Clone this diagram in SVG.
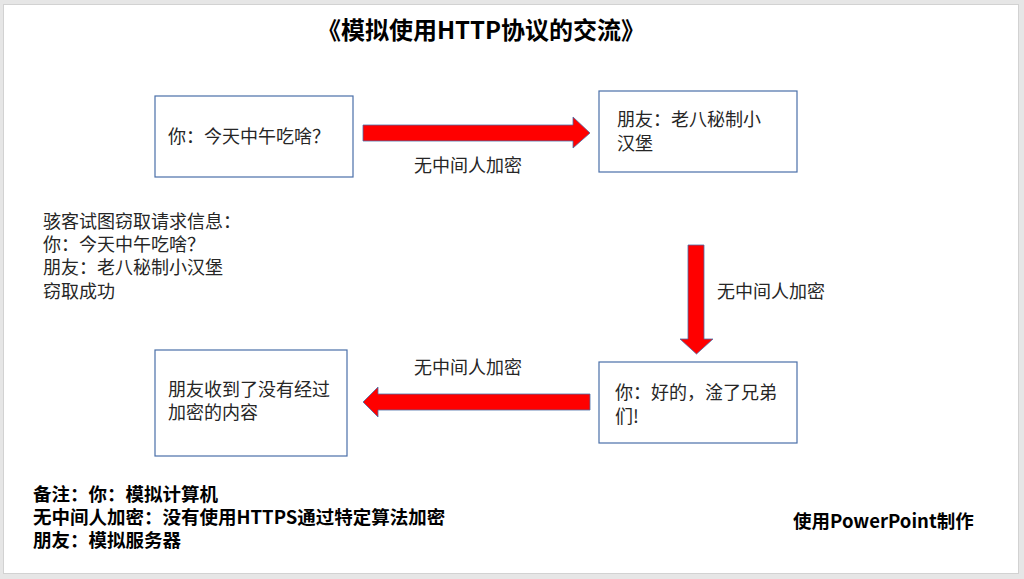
<svg xmlns="http://www.w3.org/2000/svg" width="1024" height="579" viewBox="0 0 1024 579">
<style>
.box{fill:#fff;stroke:#4a6fa8;stroke-width:1.2}
.t{font-family:"Noto Sans CJK SC","Liberation Sans",sans-serif;font-size:18px;fill:#262626}
.b{font-family:"Noto Sans CJK SC","Liberation Sans",sans-serif;font-size:18.5px;font-weight:bold;fill:#000}
.arr{fill:#ff0000;stroke:#4a6fa8;stroke-width:0.8}
</style>
<rect x="0" y="0" width="1024" height="579" fill="#e6e6e6"/>
<rect x="3.5" y="4.5" width="1015" height="569" fill="#fff" stroke="#d2d2d2"/>
<text x="481" y="39" text-anchor="middle" font-family="'Noto Sans CJK SC','Liberation Sans',sans-serif" font-size="24" font-weight="bold" fill="#000">《模拟使用HTTP协议的交流》</text>
<g id="connectors">
<polygon class="arr" points="363,125 573,125 573,117 590,133 573,148 573,141 363,141"/>
<polygon class="arr" points="688,245 704,245 704,339 713,339 696.5,354 680,339 688,339"/>
<polygon class="arr" points="590,394 378,394 378,387 363,402 378,417 378,410 590,410"/>
<text class="t" x="468" y="172" text-anchor="middle">无中间人加密</text>
<text class="t" x="717" y="298">无中间人加密</text>
<text class="t" x="468" y="374" text-anchor="middle">无中间人加密</text>
</g>
<g id="node-you-ask">
<rect class="box" x="155" y="96" width="198" height="81"/>
<text class="t" x="168" y="143">你：今天中午吃啥？</text>
</g>
<g id="node-friend-reply">
<rect class="box" x="599" y="91" width="198" height="81"/>
<text class="t"><tspan x="617" y="126">朋友：老八秘制小</tspan><tspan x="617" y="150">汉堡</tspan></text>
</g>
<g id="node-you-ok">
<rect class="box" x="599" y="362" width="198" height="81"/>
<text class="t"><tspan x="615" y="399">你：好的，淦了兄弟</tspan><tspan x="615" y="423">们!</tspan></text>
</g>
<g id="node-friend-received">
<rect class="box" x="155" y="350" width="192" height="106"/>
<text class="t"><tspan x="168" y="396">朋友收到了没有经过</tspan><tspan x="168" y="419">加密的内容</tspan></text>
</g>
<g id="hacker-note">
<text class="t"><tspan x="43" y="228">骇客试图窃取请求信息：</tspan><tspan x="43" y="251">你：今天中午吃啥？</tspan><tspan x="43" y="274">朋友：老八秘制小汉堡</tspan><tspan x="43" y="298">窃取成功</tspan></text>
</g>
<g id="legend">
<text class="b"><tspan x="33" y="501">备注：你：模拟计算机</tspan><tspan x="33" y="524">无中间人加密：没有使用HTTPS通过特定算法加密</tspan><tspan x="33" y="547">朋友：模拟服务器</tspan></text>
<text class="b" x="793" y="528" font-size="18">使用PowerPoint制作</text>
</g>
</svg>
